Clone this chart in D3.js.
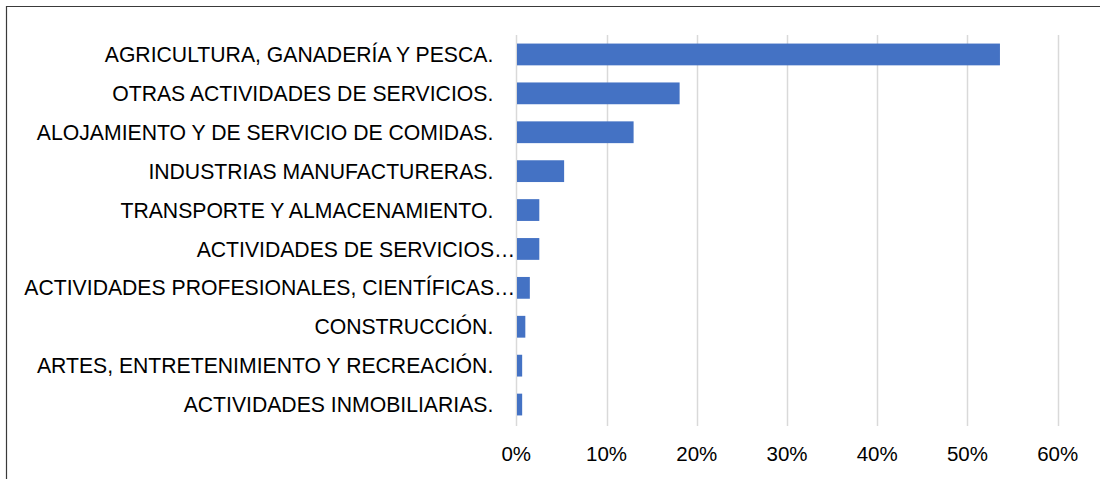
<!DOCTYPE html>
<html>
<head>
<meta charset="utf-8">
<script src="https://cdn.jsdelivr.net/npm/d3@7"></script>
<style>
  html, body { margin: 0; padding: 0; background: #fff; }
  svg { display: block; }
</style>
</head>
<body>
<svg id="chart" width="1100" height="479"></svg>
<script>
// Sectors, in display order (top to bottom)
const categories = [
  "AGRICULTURA, GANADERÍA Y PESCA.",
  "OTRAS ACTIVIDADES DE SERVICIOS.",
  "ALOJAMIENTO Y DE SERVICIO DE COMIDAS.",
  "INDUSTRIAS MANUFACTURERAS.",
  "TRANSPORTE Y ALMACENAMIENTO.",
  "ACTIVIDADES DE SERVICIOS…",
  "ACTIVIDADES PROFESIONALES, CIENTÍFICAS…",
  "CONSTRUCCIÓN.",
  "ARTES, ENTRETENIMIENTO Y RECREACIÓN.",
  "ACTIVIDADES INMOBILIARIAS."
];
// Share of each sector (percent)
const shares = [53.6, 18.1, 13.0, 5.3, 2.55, 2.55, 1.5, 1.0, 0.65, 0.65];
// Axis ticks (percent)
const tickValues = [0, 10, 20, 30, 40, 50, 60];

const svg = d3.select("#chart");
const font = "'Liberation Sans', Arial, sans-serif";

// Outer frame (left and top edges)
svg.append("path")
  .attr("d", "M6.5,479V6.5H1100")
  .attr("fill", "none")
  .attr("stroke", "#3a3a3a")
  .attr("stroke-width", 1.2);

const x = d3.scaleLinear().domain([0, 60]).range([516.3, 1057.7]);
const y = d3.scaleBand().domain(categories).range([35, 424])
  .paddingInner(0.44).paddingOuter(0.22);

// Vertical gridlines
svg.append("g").selectAll("line").data(tickValues).join("line")
  .attr("x1", d => Math.round(x(d)) + 0.5)
  .attr("x2", d => Math.round(x(d)) + 0.5)
  .attr("y1", 35).attr("y2", 426)
  .attr("stroke", "#d9d9d9").attr("stroke-width", 1.5);

// Bars
svg.append("g").selectAll("rect").data(categories).join("rect")
  .attr("x", x(0) + 0.7)
  .attr("y", d => y(d))
  .attr("width", (d, i) => x(shares[i]) - x(0) - 0.7)
  .attr("height", y.bandwidth())
  .attr("fill", "#4472C4");

// Category labels (truncated ones run up to the axis)
svg.append("g").selectAll("text").data(categories).join("text")
  .attr("x", d => d.endsWith("…") ? x(0) - 1 : x(0) - 23)
  .attr("y", d => y(d) + y.bandwidth() / 2)
  .attr("dy", "0.36em")
  .attr("text-anchor", "end")
  .attr("font-family", font)
  .attr("font-size", "21.2px")
  .attr("fill", "#000")
  .text(d => d);

// Bottom axis labels
svg.append("g").selectAll("text").data(tickValues).join("text")
  .attr("x", d => x(d))
  .attr("y", 460.7)
  .attr("text-anchor", "middle")
  .attr("font-family", font)
  .attr("font-size", "20.5px")
  .attr("fill", "#000")
  .text(d => d + "%");
</script>
</body>
</html>
